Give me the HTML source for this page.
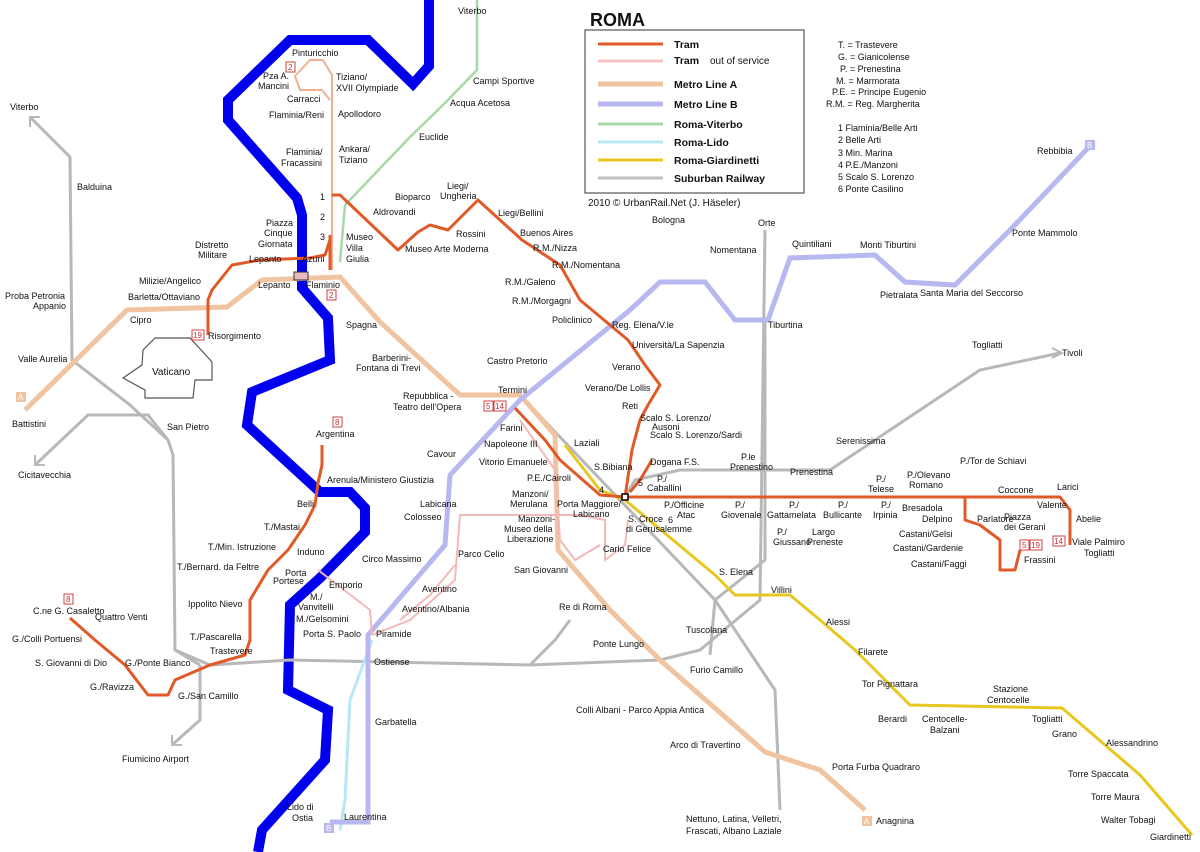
<!DOCTYPE html>
<html><head><meta charset="utf-8">
<style>
html,body{margin:0;padding:0;background:#fff;}
svg{display:block;font-family:"Liberation Sans",Arial,sans-serif;}
text{font-size:9px;fill:#111;}
.b{font-weight:bold;font-size:10.5px;}
.bd{fill:#fff;stroke:#d04040;stroke-width:1;}
.bt{fill:#c03030;font-size:8px;}
</style></head><body>
<svg width="1200" height="852" viewBox="0 0 1200 852" xmlns="http://www.w3.org/2000/svg">
<rect width="1200" height="852" fill="#fff"/>
<path d="M429,0 L429,66 L413,84 L368,40 L290,40 L228,100 L228,120 L297,198 L302,215 L302,288 L328,318 L330,360 L252,392 L247,425 L320,492 L350,492 L365,508 L365,532 L320,578 L290,605 L288,690 L328,710 L325,760 L262,830 L258,852" fill="none" stroke="#0000ee" stroke-width="10"/>
<path d="M155,338 L190,338 L203,352 L212,362 L212,380 L195,380 L193,398 L145,398 L145,390 L123,378 L142,365 L143,350 Z" fill="none" stroke="#555" stroke-width="1.2"/>
<text x="152" y="375" style="font-size:10px">Vaticano</text>
<g fill="none" stroke="#b8b8b8" stroke-width="3">
<path d="M30,117 L70,157 L72,360 L130,405 L168,440 L173,455 L175,650 L200,665"/>
<path d="M35,465 L88,415 L148,415 L168,440"/>
<path d="M200,665 L200,720 L172,745"/>
<path d="M175,650 L210,665 L290,660 L530,665 L660,660 L700,650 L760,600 L765,230"/>
<path d="M520,395 L620,500 L715,600 L775,690 L780,810"/>
<path d="M765,320 L765,560 L715,600 L710,655"/>
<path d="M625,497 L635,480 L680,470 L830,470 L980,370 L1060,353"/>
<path d="M530,665 L555,640 L570,620"/>
</g>
<path d="M1052,348 L1062,353 L1052,358" fill="none" stroke="#b8b8b8" stroke-width="2"/>
<path d="M30,127 L30,117 L40,117" fill="none" stroke="#b8b8b8" stroke-width="2"/>
<path d="M35,455 L35,465 L45,465" fill="none" stroke="#b8b8b8" stroke-width="2"/>
<path d="M172,735 L172,745 L182,745" fill="none" stroke="#b8b8b8" stroke-width="2"/>
<path d="M477,0 L477,70 L445,103 L410,137 L345,205 L340,262" fill="none" stroke="#a8d8a8" stroke-width="2.5"/>
<path d="M372,640 L350,700 L345,800 L340,830" fill="none" stroke="#b8e8f8" stroke-width="3"/>
<path d="M25,410 L127,310 L227,307 L262,280 L340,277 L380,322 L460,395 L520,395 L555,435 L558,550 L610,610 L660,660 L765,752 L820,770 L865,810" fill="none" stroke="#f0c4a0" stroke-width="5"/>
<rect x="16" y="392" width="10" height="10" fill="#f0c4a0"/><text x="18" y="400" style="fill:#fff;font-size:8px">A</text>
<rect x="862" y="816" width="10" height="10" fill="#f0c4a0"/><text x="864" y="824" style="fill:#fff;font-size:8px">A</text>
<path d="M330,822 L368,822 L368,635 L445,545 L450,475 L520,400 L630,310 L660,282 L705,282 L735,320 L768,320 L790,258 L875,255 L905,282 L955,285 L1010,230 L1088,148" fill="none" stroke="#b8b8f0" stroke-width="5"/>
<rect x="324" y="823" width="10" height="10" fill="#b8b8f0"/><text x="326" y="831" style="fill:#fff;font-size:8px">B</text>
<rect x="1085" y="140" width="10" height="10" fill="#b8b8f0"/><text x="1087" y="148" style="fill:#fff;font-size:8px">B</text>
<path d="M565,445 L600,490 L625,500 L715,575 L735,595 L790,595 L820,620 L855,650 L890,685 L910,705 L1062,708 L1140,775 L1192,835" fill="none" stroke="#e8c820" stroke-width="3"/>
<g fill="none" stroke="#f4b8b8" stroke-width="2">
<path d="M318,570 L370,610 L372,635"/>
<path d="M372,635 L410,620 L455,580 L460,515 L580,515 L605,520 L605,560 L625,545 L628,520"/>
<path d="M455,565 L430,595 L400,620"/>
<path d="M520,420 L555,470 L560,540 L575,560 L600,545"/>
</g>
<g fill="none" stroke="#e05a28" stroke-width="3" stroke-linejoin="round">
<path d="M332,270 L332,195 L332,75 L323,60 L310,60 L295,76 L300,90 L322,90 L330,100" stroke="#f0b090" stroke-width="2"/>
<path d="M330,235 L330,270"/>
<path d="M332,195 L340,195 L398,250 L418,232 L430,225 L448,230 L478,200 L522,240 L560,265 L580,300 L610,325 L628,340 L645,365 L660,385 L648,405 L640,420 L632,450 L625,497"/>
<path d="M625,497 L1060,497 L1070,510 L1070,545"/>
<path d="M965,497 L965,520 L980,525 L1000,540 L1000,570 L1015,570 L1020,550"/>
<path d="M515,408 L545,440 L560,460 L600,495 L625,497"/>
<path d="M652,460 L640,480 L630,492"/>
<path d="M208,335 L208,300 L212,290 L232,265 L260,260 L310,258 L325,255 L330,240"/>
<path d="M322,445 L322,465 L318,483 L315,505 L305,525 L288,550 L268,570 L250,600 L250,640 L245,655 L210,665 L175,680 L168,695 L148,695 L125,665 L95,640 L70,618"/>
</g>
<rect x="622" y="494" width="6" height="6" fill="#fff" stroke="#000" stroke-width="1.5"/>
<rect x="294" y="272" width="14" height="8" fill="#e8b8c0" stroke="#333" stroke-width="1"/>
<rect x="286" y="62" width="9" height="10" class="bd"/><text x="288" y="70" class="bt">2</text>
<rect x="327" y="290" width="9" height="10" class="bd"/><text x="329" y="298" class="bt">2</text>
<rect x="192" y="330" width="12" height="10" class="bd"/><text x="193" y="338" class="bt">19</text>
<rect x="333" y="417" width="9" height="10" class="bd"/><text x="335" y="425" class="bt">8</text>
<rect x="64" y="594" width="9" height="10" class="bd"/><text x="66" y="602" class="bt">8</text>
<rect x="484" y="401" width="9" height="10" class="bd"/><text x="486" y="409" class="bt">5</text>
<rect x="494" y="401" width="12" height="10" class="bd"/><text x="495" y="409" class="bt">14</text>
<rect x="1020" y="540" width="9" height="10" class="bd"/><text x="1022" y="548" class="bt">5</text>
<rect x="1030" y="540" width="12" height="10" class="bd"/><text x="1031" y="548" class="bt">19</text>
<rect x="1053" y="536" width="12" height="10" class="bd"/><text x="1054" y="544" class="bt">14</text>
<text x="590" y="26" style="font-size:18px;font-weight:bold">ROMA</text>
<rect x="585" y="30" width="219" height="163" fill="none" stroke="#555" stroke-width="1.2"/>
<line x1="598" y1="44" x2="663" y2="44" stroke="#e05a28" stroke-width="3"/>
<line x1="598" y1="61" x2="663" y2="61" stroke="#f4c0c0" stroke-width="3"/>
<line x1="598" y1="84" x2="663" y2="84" stroke="#f0c4a0" stroke-width="5"/>
<line x1="598" y1="104" x2="663" y2="104" stroke="#b8b8f0" stroke-width="5"/>
<line x1="598" y1="124" x2="663" y2="124" stroke="#a8d8a8" stroke-width="3"/>
<line x1="598" y1="142" x2="663" y2="142" stroke="#b8e8f8" stroke-width="3"/>
<line x1="598" y1="160" x2="663" y2="160" stroke="#e8c820" stroke-width="3"/>
<line x1="598" y1="178" x2="663" y2="178" stroke="#c0c0c0" stroke-width="3"/>
<text x="674" y="48" class="b">Tram</text>
<text x="674" y="64" class="b">Tram</text><text x="710" y="64" style="font-size:10px">out of service</text>
<text x="674" y="88" class="b">Metro Line A</text>
<text x="674" y="108" class="b">Metro Line B</text>
<text x="674" y="128" class="b">Roma-Viterbo</text>
<text x="674" y="146" class="b">Roma-Lido</text>
<text x="674" y="164" class="b">Roma-Giardinetti</text>
<text x="674" y="182" class="b">Suburban Railway</text>
<text x="588" y="206" style="font-size:10px">2010 © UrbanRail.Net (J. Häseler)</text>
<g style="font-size:8.5px">
<text x="838" y="48">T. = Trastevere</text>
<text x="838" y="60">G. = Gianicolense</text>
<text x="840" y="72">P. = Prenestina</text>
<text x="836" y="84">M. = Marmorata</text>
<text x="832" y="95">P.E. = Principe Eugenio</text>
<text x="826" y="107">R.M. = Reg. Margherita</text>
<text x="838" y="131">1 Flaminia/Belle Arti</text>
<text x="838" y="143">2 Belle Arti</text>
<text x="838" y="156">3 Min. Marina</text>
<text x="838" y="168">4 P.E./Manzoni</text>
<text x="838" y="180">5 Scalo S. Lorenzo</text>
<text x="838" y="192">6 Ponte Casilino</text>
</g>
<g>
<text x="458" y="14">Viterbo</text>
<text x="473" y="84">Campi Sportive</text>
<text x="450" y="106">Acqua Acetosa</text>
<text x="419" y="140">Euclide</text>
<text x="292" y="56">Pinturicchio</text>
<text x="263" y="79">Pza A.</text><text x="258" y="89">Mancini</text>
<text x="336" y="80">Tiziano/</text><text x="336" y="91">XVII Olympiade</text>
<text x="287" y="102">Carracci</text>
<text x="269" y="118">Flaminia/Reni</text>
<text x="338" y="117">Apollodoro</text>
<text x="286" y="155">Flaminia/</text><text x="281" y="166">Fracassini</text>
<text x="339" y="152">Ankara/</text><text x="339" y="163">Tiziano</text>
<text x="320" y="200">1</text><text x="320" y="220">2</text><text x="320" y="240">3</text>
<text x="266" y="226">Piazza</text><text x="264" y="236">Cinque</text><text x="258" y="247">Giornata</text>
<text x="195" y="248">Distretto</text><text x="198" y="258">Militare</text>
<text x="249" y="262">Lepanto</text><text x="302" y="262">Azuni</text>
<text x="346" y="240">Museo</text><text x="346" y="251">Villa</text><text x="346" y="262">Giulia</text>
<text x="258" y="288">Lepanto</text><text x="306" y="288">Flaminio</text>
<text x="373" y="215">Aldrovandi</text>
<text x="395" y="200">Bioparco</text>
<text x="447" y="189">Liegi/</text><text x="440" y="199">Ungheria</text>
<text x="498" y="216">Liegi/Bellini</text>
<text x="456" y="237">Rossini</text>
<text x="405" y="252">Museo Arte Moderna</text>
<text x="520" y="236">Buenos Aires</text>
<text x="533" y="251">R.M./Nizza</text>
<text x="552" y="268">R.M./Nomentana</text>
<text x="505" y="285">R.M./Galeno</text>
<text x="512" y="304">R.M./Morgagni</text>
<text x="552" y="323">Policlinico</text>
<text x="612" y="328">Reg. Elena/V.le</text>
<text x="632" y="348">Università/La Sapenzia</text>
<text x="612" y="370">Verano</text>
<text x="585" y="391">Verano/De Lollis</text>
<text x="622" y="409">Reti</text>
<text x="640" y="421">Scalo S. Lorenzo/</text><text x="652" y="430">Ausoni</text>
<text x="650" y="438">Scalo S. Lorenzo/Sardi</text>
<text x="650" y="465">Dogana F.S.</text>
<text x="652" y="223">Bologna</text>
<text x="758" y="226">Orte</text>
<text x="710" y="253">Nomentana</text>
<text x="792" y="247">Quintiliani</text>
<text x="860" y="248">Monti Tiburtini</text>
<text x="880" y="298">Pietralata</text>
<text x="920" y="296">Santa Maria del Seccorso</text>
<text x="1012" y="236">Ponte Mammolo</text>
<text x="1037" y="154">Rebbibia</text>
<text x="768" y="328">Tiburtina</text>
<text x="972" y="348">Togliatti</text>
<text x="1062" y="356">Tivoli</text>
<text x="836" y="444">Serenissima</text>
<text x="10" y="110">Viterbo</text>
<text x="77" y="190">Balduina</text>
<text x="5" y="299">Proba Petronia</text><text x="33" y="309">Appanio</text>
<text x="18" y="362">Valle Aurelia</text>
<text x="12" y="427">Battistini</text>
<text x="18" y="478">Cicitavecchia</text>
<text x="167" y="430">San Pietro</text>
<text x="139" y="284">Milizie/Angelico</text>
<text x="128" y="300">Barletta/Ottaviano</text>
<text x="130" y="323">Cipro</text>
<text x="208" y="339">Risorgimento</text>
<text x="346" y="328">Spagna</text>
<text x="372" y="361">Barberini-</text><text x="356" y="371">Fontana di Trevi</text>
<text x="403" y="399">Repubblica -</text><text x="393" y="410">Teatro dell'Opera</text>
<text x="487" y="364">Castro Pretorio</text>
<text x="498" y="393">Termini</text>
<text x="316" y="437">Argentina</text>
<text x="327" y="483">Arenula/Ministero Giustizia</text>
<text x="297" y="507">Belli</text>
<text x="264" y="530">T./Mastai</text>
<text x="208" y="550">T./Min. Istruzione</text>
<text x="297" y="555">Induno</text>
<text x="177" y="570">T./Bernard. da Feltre</text>
<text x="285" y="576">Porta</text><text x="273" y="584">Portese</text>
<text x="329" y="588">Emporio</text>
<text x="188" y="607">Ippolito Nievo</text>
<text x="310" y="600">M./</text><text x="298" y="610">Vanvitelli</text>
<text x="296" y="622">M./Gelsomini</text>
<text x="303" y="637">Porta S. Paolo</text>
<text x="376" y="637">Piramide</text>
<text x="190" y="640">T./Pascarella</text>
<text x="95" y="620">Quattro Venti</text>
<text x="33" y="614">C.ne G. Casaletto</text>
<text x="12" y="642">G./Colli Portuensi</text>
<text x="35" y="666">S. Giovanni di Dio</text>
<text x="125" y="666">G./Ponte Bianco</text>
<text x="210" y="654">Trastevere</text>
<text x="90" y="690">G./Ravizza</text>
<text x="178" y="699">G./San Camillo</text>
<text x="122" y="762">Fiumicino Airport</text>
<text x="374" y="665">Ostiense</text>
<text x="375" y="725">Garbatella</text>
<text x="287" y="810">Lido di</text><text x="292" y="821">Ostia</text>
<text x="344" y="820">Laurentina</text>
<text x="427" y="457">Cavour</text>
<text x="500" y="431">Farini</text>
<text x="484" y="447">Napoleone III</text>
<text x="479" y="465">Vitorio Emanuele</text>
<text x="527" y="481">P.E./Cairoli</text>
<text x="574" y="446">Laziali</text>
<text x="594" y="470">S.Bibiana</text>
<text x="599" y="493">4</text><text x="638" y="486">5</text><text x="668" y="523">6</text>
<text x="420" y="507">Labicana</text>
<text x="512" y="497">Manzoni/</text><text x="510" y="507">Merulana</text>
<text x="518" y="522">Manzoni-</text><text x="504" y="532">Museo della</text><text x="507" y="542">Liberazione</text>
<text x="557" y="507">Porta Maggiore/</text><text x="573" y="517">Labicano</text>
<text x="628" y="522">S. Croce</text><text x="626" y="532">di Gerusalemme</text>
<text x="404" y="520">Colosseo</text>
<text x="362" y="562">Circo Massimo</text>
<text x="458" y="557">Parco Celio</text>
<text x="514" y="573">San Giovanni</text>
<text x="603" y="552">Carlo Felice</text>
<text x="422" y="592">Aventino</text>
<text x="402" y="612">Aventino/Albania</text>
<text x="559" y="610">Re di Roma</text>
<text x="593" y="647">Ponte Lungo</text>
<text x="686" y="633">Tuscolana</text>
<text x="690" y="673">Furio Camillo</text>
<text x="576" y="713">Colli Albani - Parco Appia Antica</text>
<text x="670" y="748">Arco di Travertino</text>
<text x="832" y="770">Porta Furba Quadraro</text>
<text x="876" y="824">Anagnina</text>
<text x="686" y="822">Nettuno, Latina, Velletri,</text><text x="686" y="834">Frascati, Albano Laziale</text>
<text x="719" y="575">S. Elena</text>
<text x="771" y="593">Villini</text>
<text x="826" y="625">Alessi</text>
<text x="858" y="655">Filarete</text>
<text x="862" y="687">Tor Pignattara</text>
<text x="878" y="722">Berardi</text>
<text x="922" y="722">Centocelle-</text><text x="930" y="733">Balzani</text>
<text x="993" y="692">Stazione</text><text x="987" y="703">Centocelle</text>
<text x="1032" y="722">Togliatti</text>
<text x="1052" y="737">Grano</text>
<text x="1106" y="746">Alessandrino</text>
<text x="1068" y="777">Torre Spaccata</text>
<text x="1091" y="800">Torre Maura</text>
<text x="1101" y="823">Walter Tobagi</text>
<text x="1150" y="840">Giardinetti</text>
<text x="657" y="482">P./</text><text x="647" y="491">Caballini</text>
<text x="741" y="460">P.le</text><text x="730" y="470">Prenestino</text>
<text x="790" y="475">Prenestina</text>
<text x="664" y="508">P./Officine</text><text x="677" y="518">Atac</text>
<text x="735" y="508">P./</text><text x="721" y="518">Giovenale</text>
<text x="777" y="535">P./</text><text x="773" y="545">Giussano</text>
<text x="789" y="508">P./</text><text x="767" y="518">Gattamelata</text>
<text x="812" y="535">Largo</text><text x="807" y="545">Preneste</text>
<text x="838" y="508">P./</text><text x="823" y="518">Bullicante</text>
<text x="876" y="482">P./</text><text x="868" y="492">Telese</text>
<text x="881" y="508">P./</text><text x="873" y="518">Irpinia</text>
<text x="907" y="478">P./Olevano</text><text x="909" y="488">Romano</text>
<text x="960" y="464">P./Tor de Schiavi</text>
<text x="998" y="493">Coccone</text>
<text x="1037" y="508">Valente</text>
<text x="1057" y="490">Larici</text>
<text x="1076" y="522">Abelie</text>
<text x="1072" y="545">Viale Palmiro</text><text x="1084" y="556">Togliatti</text>
<text x="902" y="511">Bresadola</text>
<text x="922" y="522">Delpino</text>
<text x="977" y="522">Parlatore</text>
<text x="1004" y="520">Piazza</text><text x="1004" y="530">dei Gerani</text>
<text x="899" y="537">Castani/Gelsi</text>
<text x="893" y="551">Castani/Gardenie</text>
<text x="911" y="567">Castani/Faggi</text>
<text x="1024" y="563">Frassini</text>
</g>
</svg>
</body></html>
